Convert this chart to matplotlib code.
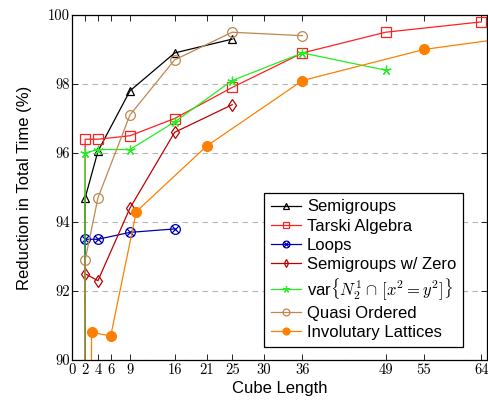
import matplotlib
matplotlib.use("Agg")
import matplotlib.pyplot as plt
from matplotlib.path import Path

plt.rcParams['font.family'] = ['Liberation Sans', 'DejaVu Sans']
plt.rcParams['mathtext.fontset'] = 'cm'

# data (x = cube length, y = reduction in %)
# the first point of each series (cube length 1) lies far below the axis and is clipped
semi_x = [1, 2, 4, 9, 16, 25]
semi_y = [0, 94.7, 96.05, 97.8, 98.9, 99.3]

tarski_x = [1, 2, 4, 9, 16, 25, 36, 49, 64]
tarski_y = [0, 96.4, 96.4, 96.5, 97.0, 97.9, 98.9, 99.5, 99.8]

loops_x = [1, 2, 4, 9, 16]
loops_y = [0, 93.5, 93.5, 93.7, 93.8]

zero_x = [1, 2, 4, 9, 16, 25]
zero_y = [0, 92.5, 92.3, 94.4, 96.6, 97.4]

var_x = [1, 2, 4, 9, 16, 25, 36, 49]
var_y = [0, 96.0, 96.1, 96.1, 96.9, 98.1, 98.9, 98.4]

quasi_x = [1, 2, 4, 9, 16, 25, 36]
quasi_y = [0, 92.9, 94.7, 97.1, 98.7, 99.5, 99.4]

invol_x = [1, 3, 6, 10, 21, 36, 55, 81]
invol_y = [0, 90.8, 90.7, 94.3, 96.2, 98.1, 99.0, 99.66]

xticks = [0, 2, 4, 6, 9, 16, 21, 25, 30, 36, 49, 55, 64]
yticks = [90, 92, 94, 96, 98, 100]

# circle with a cross, like pgf's otimes mark
c = 0.7071
otimes = Path.make_compound_path(
    Path.unit_circle(),
    Path([(-c, -c), (c, c), (-c, c), (c, -c)],
         [Path.MOVETO, Path.LINETO, Path.MOVETO, Path.LINETO]))

fig = plt.figure(figsize=(4.89, 4.05), dpi=100)
ax = fig.add_axes([0.148, 0.111, 0.847, 0.852])

lw = 0.9
ax.plot(semi_x, semi_y, color='black', lw=lw, marker='^', ms=6, mfc='none',
        mew=0.9, label='Semigroups')
ax.plot(tarski_x, tarski_y, color='#ff2020', lw=lw, marker='s', ms=7, mfc='none',
        mew=0.9, label='Tarski Algebra')
ax.plot(loops_x, loops_y, color='#0000b0', lw=lw, marker=otimes, ms=7, mfc='none',
        mew=0.9, label='Loops')
ax.plot(zero_x, zero_y, color='#c00000', lw=lw, marker='d', ms=6, mfc='none',
        mew=0.9, label='Semigroups w/ Zero')
ax.plot(var_x, var_y, color='#22ee22', lw=lw, marker=(5, 2, 0), ms=7,
        mew=0.9, label=r'var$\{N_2^1\cap\,[x^2 = y^2]\}$')
ax.plot(quasi_x, quasi_y, color='#c08850', lw=lw, marker='o', ms=7, mfc='none',
        mew=0.9, label='Quasi Ordered')
ax.plot(invol_x, invol_y, color='#ff8000', lw=lw, marker='o', ms=7,
        label='Involutary Lattices')

ax.set_xlim(0, 64.8)
ax.set_ylim(90, 100)
ax.set_xticks(xticks, labels=[str(t) for t in xticks], fontfamily='cmr10', fontsize=10.5)
ax.set_yticks(yticks, labels=[str(t) for t in yticks], fontfamily='cmr10', fontsize=10.5)
ax.tick_params(direction='in', top=True, right=True, length=4, width=0.6, pad=2)

ax.grid(axis='y', color='#b5b5b5', linestyle=(0, (5, 4)), lw=0.8)
ax.set_axisbelow(True)
for s in ax.spines.values():
    s.set_linewidth(0.9)

ax.set_xlabel('Cube Length', fontsize=12, labelpad=3)
ax.set_ylabel('Reduction in Total Time (%)', fontsize=12, labelpad=11)

leg = ax.legend(loc='lower right', bbox_to_anchor=(0.943, 0.038), borderaxespad=0,
                fontsize=12, fancybox=False, framealpha=1, edgecolor='black',
                labelspacing=0.25, handlelength=1.8, handletextpad=0.35,
                borderpad=0.4, markerscale=0.7)
leg.get_frame().set_linewidth(0.9)

fig.savefig('out.png', dpi=100)
